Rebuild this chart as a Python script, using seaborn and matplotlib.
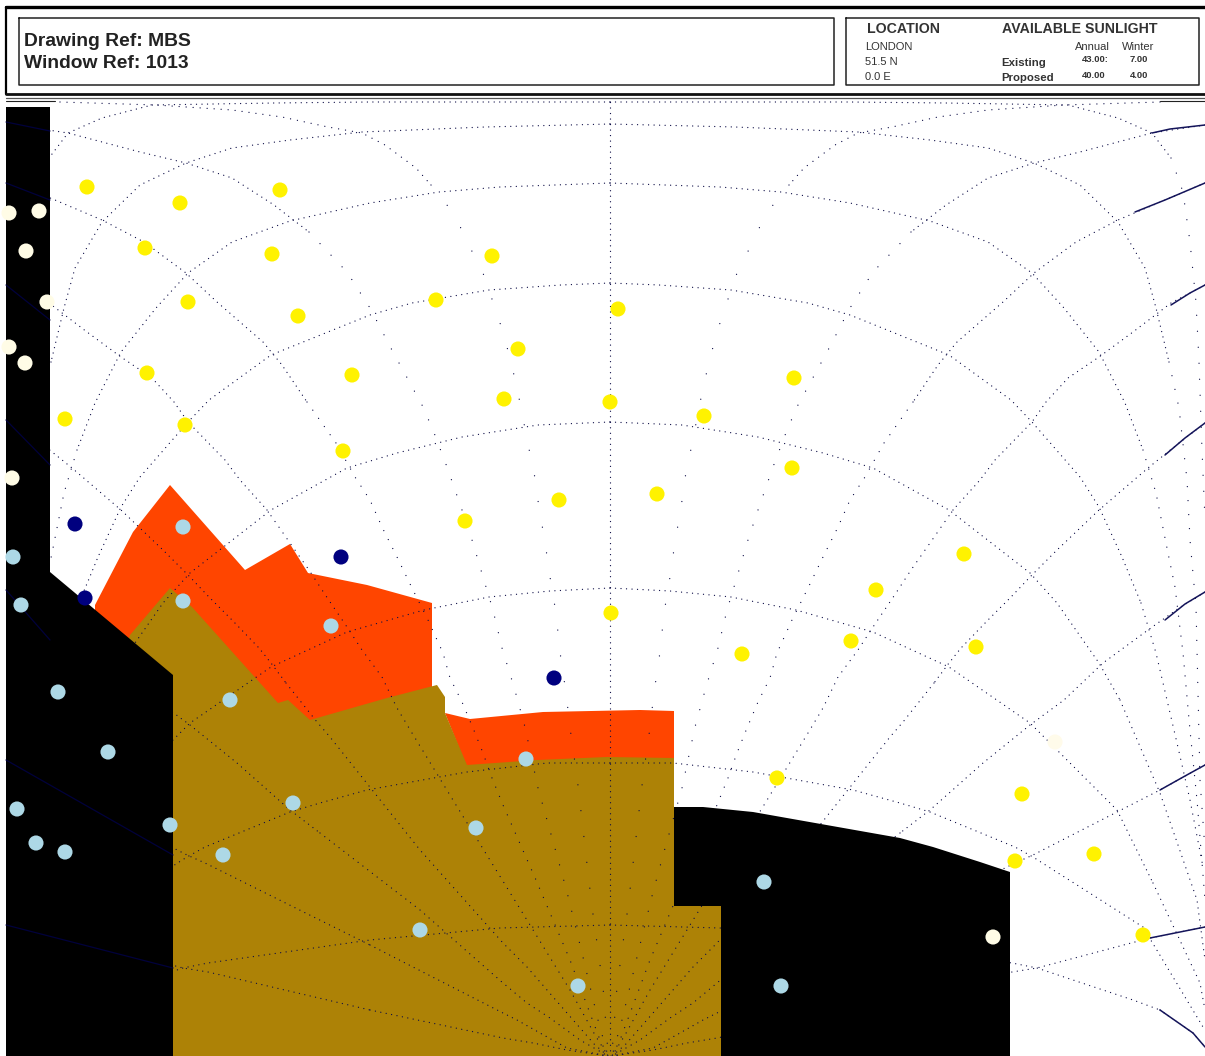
"""Sunpath indicator overlay for window 1013: obstructions, grid and sky dots."""
import matplotlib.pyplot as plt
import pandas as pd
import seaborn as sns

W, H = 1205, 1056
CENTRE = 610

# altitude arcs, read from the right half (the left half is its mirror)
ARC_O = [(610, 102), (850, 102), (946, 103), (1068, 105), (1118, 118), (1152, 133), (1171, 158), (1183, 192),
         (1190, 242), (1196, 302), (1199, 362), (1202, 450), (1205, 520)]
ARC_A = [(610, 124), (735, 127), (858, 132), (930, 140), (988, 148), (1034, 163), (1080, 185), (1118, 222),
         (1145, 268), (1156, 308), (1169, 362), (1179, 408), (1187, 480), (1190, 540), (1196, 607), (1200, 780),
         (1205, 850)]
ARC_B = [(610, 183), (720, 187), (781, 192), (850, 203), (930, 221), (988, 242), (1032, 273), (1064, 308),
         (1099, 352), (1125, 403), (1143, 450), (1156, 493), (1168, 553), (1175, 587), (1183, 653), (1190, 730),
         (1197, 800), (1205, 900)]
ARC_C = [(610, 283), (659, 285), (731, 290), (808, 303), (850, 315), (949, 355), (1011, 400), (1032, 422),
         (1080, 477), (1099, 507), (1122, 557), (1141, 603), (1156, 653), (1167, 700), (1177, 743), (1190, 800),
         (1203, 867)]
ARC_D = [(610, 422), (682, 425), (758, 437), (823, 453), (873, 468), (949, 510), (1030, 573), (1057, 603),
         (1099, 663), (1120, 700), (1160, 793), (1197, 900), (1205, 960)]
ARC_E = [(610, 588), (670, 591), (731, 597), (796, 610), (873, 632), (949, 667), (1030, 723), (1117, 810),
         (1153, 883), (1200, 983), (1205, 1010)]
ARC_F = [(610, 763), (673, 763), (753, 772), (853, 790), (900, 803), (930, 812), (1015, 847), (1033, 857),
         (1143, 927), (1203, 1027)]
ARC_G = [(610, 925), (720, 928), (850, 940), (1012, 963), (1037, 968), (1133, 1000), (1160, 1010), (1193, 1033),
         (1205, 1047)]

# radial lines from the pole to the right hand edge
RAD_0 = [(1160, 102), (1064, 105), (988, 110), (938, 117), (892, 127), (858, 133), (835, 145), (804, 168),
         (789, 185), (773, 205), (758, 230), (743, 262), (737, 273), (727, 302), (716, 335), (706, 375),
         (701, 398), (691, 449), (685, 478), (681, 508), (675, 542), (670, 577), (664, 613), (660, 652),
         (654, 693), (649, 735), (643, 777), (638, 820), (633, 864), (628, 907), (622, 950), (617, 987),
         (612, 1053)]
RAD_1 = [(1205, 125), (1152, 133), (1080, 152), (1034, 163), (988, 178), (946, 205), (911, 232), (873, 272),
         (850, 308), (827, 352), (798, 405), (787, 430), (773, 467), (758, 510), (747, 543), (737, 577),
         (727, 610), (718, 648), (706, 687), (695, 727), (682, 788), (664, 852), (653, 892), (638, 953),
         (622, 1020), (612, 1056)]
RAD_2 = [(1205, 183), (1118, 220), (1076, 242), (1034, 273), (1003, 302), (957, 342), (938, 365), (913, 402),
         (884, 443), (865, 477), (850, 500), (838, 527), (823, 557), (808, 588), (792, 620), (777, 653),
         (770, 678), (758, 702), (747, 728), (737, 753), (728, 778), (717, 805), (684, 880), (650, 960),
         (620, 1040), (612, 1056)]
RAD_3 = [(1205, 285), (1171, 303), (1133, 332), (1099, 357), (1068, 378), (1046, 402), (1032, 422), (995, 460),
         (980, 480), (953, 510), (930, 543), (911, 570), (896, 593), (873, 627), (858, 650), (838, 677),
         (823, 708), (808, 733), (764, 805), (690, 925), (650, 990), (625, 1035), (612, 1056)]
RAD_4 = [(1205, 423), (1179, 443), (1148, 468), (1099, 510), (1057, 550), (1030, 577), (1011, 597), (988, 620),
         (961, 648), (949, 663), (934, 683), (903, 722), (890, 737), (800, 850), (717, 943), (693, 967),
         (653, 1013), (625, 1045), (612, 1056)]
RAD_5 = [(1205, 592), (1179, 608), (1148, 630), (1103, 663), (1064, 700), (1030, 725), (983, 763), (930, 810),
         (900, 833), (800, 910), (717, 983), (693, 1003), (670, 1018), (640, 1040), (612, 1056)]
RAD_6 = [(1205, 765), (1160, 790), (1117, 812), (1033, 855), (1015, 863), (850, 945), (717, 1013), (703, 1020),
         (680, 1033), (653, 1048), (612, 1056)]
RAD_7 = [(1205, 927), (1150, 938), (1037, 968), (1012, 972), (850, 1010), (717, 1038), (687, 1043), (653, 1050),
         (612, 1056)]

# dot spacing in pixels along each curve; the far end of the outer arcs thins out
ARC_SPACING = [(ARC_O, 5.5, 6, 16), (ARC_A, 5.5, 10, 14), (ARC_B, 5.5, 10, 10), (ARC_C, 5.5, 11, 7),
               (ARC_D, 5.5, 9, 6), (ARC_E, 5.5, 8, 6), (ARC_F, 5.5, 9, 5.5), (ARC_G, 5.5, 6, 5)]
RADIAL_SPACING = [(RAD_0, 7, 8, 26), (RAD_1, 5.5, 6, 16), (RAD_2, 5.5, 7, 10), (RAD_3, 5.5, 9, 7),
                  (RAD_4, 5.5, 10, 6), (RAD_5, 5.5, 8, 6), (RAD_6, 5.5, 5, 5.5), (RAD_7, 5.5, 4, 5.5)]

# inked ends of the radials at the right edge, and their faint traces over the left block
EDGE_RIGHT = [[(1205, 125), (1170, 129), (1152, 133)],
              [(1205, 183), (1165, 200), (1135, 212)],
              [(1205, 285), (1190, 293), (1171, 305)],
              [(1205, 423), (1185, 438), (1165, 455)],
              [(1205, 592), (1185, 604), (1165, 620)],
              [(1205, 765), (1185, 776), (1160, 790)],
              [(1205, 927), (1180, 932), (1150, 938)],
              [(1205, 1047), (1193, 1033), (1160, 1010)]]
EDGE_LEFT = [[(6, 122), (50, 131)], [(6, 183), (50, 200)], [(6, 285), (50, 320)], [(6, 420), (50, 465)],
             [(6, 590), (50, 640)], [(6, 760), (173, 855)], [(6, 925), (173, 968)]]

# obstruction outlines
BLACK_LEFT = [(6, 107), (50, 107), (50, 572), (173, 675), (173, 1056), (6, 1056)]
BLACK_RIGHT = [(674, 807), (703, 807), (753, 812), (900, 838), (933, 847), (980, 862), (1010, 872), (1010, 1056),
               (721, 1056), (721, 906), (674, 906)]
ORANGE_UPPER = [(95, 605), (133, 532), (170, 485), (245, 570), (290, 544), (308, 573), (367, 585), (432, 603),
                (432, 690), (300, 740), (130, 650), (95, 620)]
ORANGE_LOWER = [(445, 713), (470, 719), (543, 712), (640, 710), (674, 711), (674, 760), (467, 768)]
BROWN = [(130, 635), (170, 588), (192, 607), (278, 703), (288, 700), (310, 720), (387, 698), (437, 685), (445, 697),
         (445, 713), (467, 765), (537, 760), (607, 757), (674, 758), (674, 906), (721, 906), (721, 1056), (173, 1056),
         (173, 690), (125, 650)]

# sky points
YELLOW_X = [87, 180, 280, 145, 272, 492, 188, 298, 436, 618, 518, 147, 352, 794, 504, 610, 704, 65, 185, 343, 792, 657,
            559, 465, 964, 876, 611, 851, 976, 742, 777, 1022, 1094, 1015, 1143]
YELLOW_Y = [187, 203, 190, 248, 254, 256, 302, 316, 300, 309, 349, 373, 375, 378, 399, 402, 416, 419, 425, 451, 468, 494,
            500, 521, 554, 590, 613, 641, 647, 654, 778, 794, 854, 861, 935]
IVORY_X = [9, 39, 26, 47, 9, 25, 12, 993]
IVORY_Y = [213, 211, 251, 302, 347, 363, 478, 937]
PALE_X = [1055]
PALE_Y = [742]
NAVY_X = [75, 85, 341, 554]
NAVY_Y = [524, 598, 557, 678]
BLUE_X = [13, 21, 183, 183, 331, 58, 230, 108, 526, 293, 17, 170, 476, 36, 65, 223, 764, 420, 578, 781]
BLUE_Y = [557, 605, 527, 601, 626, 692, 700, 752, 759, 803, 809, 825, 828, 843, 852, 855, 882, 930, 986, 986]

DOT_COLOURS = {"yellow": "#FFF200", "ivory": "#FFFCE6", "pale": "#FFFBEA", "navy": "#00007F", "blue": "#ADD8E6"}

sns.set_theme(style="white")
plt.rcParams["font.family"] = ["Liberation Sans", "DejaVu Sans"]


def xy(points):
    return [p[0] for p in points], [p[1] for p in points]


def mirrored(points):
    return [(2 * CENTRE - x, y) for x, y in points]


def dotted(ax, points, spacing):
    """Round grid dots, spacing given in pixels."""
    x, y = xy(points)
    lw_px = 1.35
    ax.plot(x, y, color="#0C0C46", lw=lw_px * 0.72, ls=(0, (0.01, spacing / lw_px)), dash_capstyle="round", zorder=2)


def draw_curve(ax, curve, near, split, far):
    for part in (curve[:split + 1], curve[split:]):
        spacing = near if part[0] == curve[0] else far
        dotted(ax, part, spacing)
        dotted(ax, mirrored(part), spacing)


def filled(ax, points, colour, zorder):
    x, y = xy(points)
    ax.fill(x, y, color=colour, lw=0, zorder=zorder)


fig = plt.figure(figsize=(W / 100, H / 100), dpi=100)
ax = fig.add_axes([0, 0, 1, 1])
ax.set_xlim(0, W)
ax.set_ylim(H, 0)
ax.axis("off")

filled(ax, ORANGE_UPPER, "#FF4500", 1)
filled(ax, ORANGE_LOWER, "#FF4500", 1)
filled(ax, BROWN, "#AD8206", 1.5)

for curve, near, split, far in ARC_SPACING + RADIAL_SPACING:
    draw_curve(ax, curve, near, split, far)
dotted(ax, [(CENTRE, 102), (CENTRE, H)], 5.5)

filled(ax, BLACK_LEFT, "#000000", 3)
filled(ax, BLACK_RIGHT, "#000000", 3)

for seg in EDGE_RIGHT:
    ax.plot(*xy(seg), color="#14145A", lw=1.1, zorder=4)
for seg in EDGE_LEFT:
    ax.plot(*xy(seg), color="#00003C", lw=0.9, zorder=4)

dots = pd.concat([
    pd.DataFrame({"x": YELLOW_X, "y": YELLOW_Y, "kind": "yellow"}),
    pd.DataFrame({"x": IVORY_X, "y": IVORY_Y, "kind": "ivory"}),
    pd.DataFrame({"x": PALE_X, "y": PALE_Y, "kind": "pale"}),
    pd.DataFrame({"x": NAVY_X, "y": NAVY_Y, "kind": "navy"}),
    pd.DataFrame({"x": BLUE_X, "y": BLUE_Y, "kind": "blue"}),
])
sns.scatterplot(data=dots, x="x", y="y", hue="kind", palette=DOT_COLOURS, s=118, linewidth=0, legend=False, ax=ax,
                zorder=5)
ax.set_xlim(0, W)
ax.set_ylim(H, 0)

# title block: white cover so nothing runs into it, then frame and boxes
ax.fill([0, W, W, 0], [0, 0, 95, 95], color="white", lw=0, zorder=6)
ax.plot([6, W], [7, 7], color="black", lw=2.4, zorder=7)
ax.plot([6, 6], [7, 94], color="black", lw=1.6, zorder=7)
ax.plot([6, W], [94, 94], color="#111111", lw=2.0, zorder=7)
ax.plot([6, W], [98, 98], color="#555555", lw=0.9, zorder=7)
ax.plot([6, 55], [101, 101], color="#222222", lw=0.8, zorder=7)
ax.plot([1160, W], [101, 101], color="#222222", lw=0.8, zorder=7)
for x0, x1 in [(19, 834), (846, 1199)]:
    ax.plot([x0, x1, x1, x0, x0], [18, 18, 85, 85, 18], color="#222222", lw=1.1, zorder=7)


def label(x, y, text, size, weight="normal", colour="#333333", **kw):
    ax.text(x, y, text, fontsize=size, fontweight=weight, color=colour, va="center", ha="left", zorder=8, **kw)


label(24, 42, "Drawing Ref: MBS", 13.9, "bold", "#222222")
label(24, 64, "Window Ref: 1013", 13.9, "bold", "#222222")
label(867, 29, "LOCATION", 10.2, "bold")
label(1002, 29, "AVAILABLE SUNLIGHT", 10.2, "bold")
label(865, 47, "LONDON", 8)
label(865, 62, "51.5 N", 8)
label(865, 77, "0.0 E", 8)
label(1075, 47, "Annual", 8)
label(1122, 47, "Winter", 8)
label(1001, 63, "Existing", 8.2, "bold")
label(1001, 78, "Proposed", 8.2, "bold")
label(1082, 60, "43.00:", 6.8, "bold")
label(1130, 60, "7.00", 6.8, "bold")
label(1082, 75, "40.00", 6.8, "bold")
label(1130, 75, "4.00", 6.8, "bold")

fig.savefig("out.png", dpi=100, facecolor="white")
